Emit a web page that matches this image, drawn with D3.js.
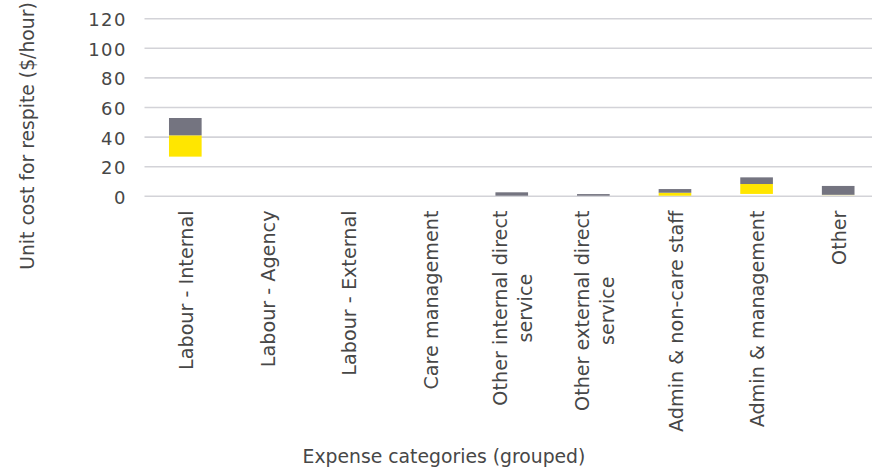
<!DOCTYPE html>
<html>
<head>
<meta charset="utf-8">
<script src="https://cdn.jsdelivr.net/npm/d3@7"></script>
<style>
  html, body { margin: 0; padding: 0; background: #ffffff; }
  svg { display: block; }
  text { font-family: "DejaVu Sans", sans-serif; fill: #474747; }
</style>
</head>
<body>
<svg id="chart" width="872" height="473"></svg>
<script>
// Expense categories (lines split for wrapped labels)
const categories = [
  "Labour - Internal",
  "Labour - Agency",
  "Labour - External",
  "Care management",
  "Other internal direct service",
  "Other external direct service",
  "Admin & non-care staff",
  "Admin & management",
  "Other"
];
const categoryLines = [
  ["Labour - Internal"],
  ["Labour - Agency"],
  ["Labour - External"],
  ["Care management"],
  ["Other internal direct", "service"],
  ["Other external direct", "service"],
  ["Admin & non-care staff"],
  ["Admin & management"],
  ["Other"]
];

// Floating range bars: invisible offset, lower (yellow) and upper (grey) segments, $/hour
const baseOffset   = [26.8, 0, 0, 0, 0.4, 0.4, 0.4, 1.6, 0.8];
const lowerSegment = [14.4, 0, 0, 0, 0.0, 0.0, 2.0, 6.7, 0.2];
const upperSegment = [11.7, 0, 0, 0, 2.3, 1.1, 2.5, 4.5, 6.0];

const yTicks = [0, 20, 40, 60, 80, 100, 120];
const yTitle = "Unit cost for respite ($/hour)";
const xTitle = "Expense categories (grouped)";

const svg = d3.select("#chart");
const plotLeft = 144.5, plotRight = 879, plotTop = 18.7, plotBottom = 196.3;

const x = d3.scaleBand()
  .domain(categories)
  .range([plotLeft, plotRight])
  .paddingInner(0.6)
  .paddingOuter(0.3);

const y = d3.scaleLinear()
  .domain([0, 120])
  .range([plotBottom, plotTop]);

// Gridlines
svg.append("g")
  .selectAll("line")
  .data(yTicks)
  .join("line")
  .attr("x1", plotLeft)
  .attr("x2", 872)
  .attr("y1", d => y(d))
  .attr("y2", d => y(d))
  .attr("stroke", "#d3d3d8")
  .attr("stroke-width", 1.6);

// Y tick labels
svg.append("g")
  .selectAll("text")
  .data(yTicks)
  .join("text")
  .attr("x", 127)
  .attr("y", d => y(d))
  .attr("dy", "0.42em")
  .attr("text-anchor", "end")
  .style("font-size", "18px")
  .style("letter-spacing", "1.5px")
  .text(d => d);

// Stacked segments
const rows = categories.map((c, i) => ({
  category: c,
  base: baseOffset[i],
  lower: lowerSegment[i],
  upper: upperSegment[i]
}));
const stack = d3.stack().keys(["base", "lower", "upper"]);
const layers = stack(rows);
const fills = { base: "none", lower: "#FFE600", upper: "#747480" };

svg.append("g")
  .selectAll("g")
  .data(layers.filter(l => l.key !== "base"))
  .join("g")
  .attr("fill", l => fills[l.key])
  .selectAll("rect")
  .data(l => l.filter(d => d[1] - d[0] > 0))
  .join("rect")
  .attr("x", d => x(d.data.category))
  .attr("width", x.bandwidth())
  .attr("y", d => y(d[1]))
  .attr("height", d => y(d[0]) - y(d[1]));

// Category labels, rotated; wrapped lines centred on the longest line
const labelTop = 210.5;
const lineGap = 25;
const labelGroups = svg.append("g")
  .selectAll("g")
  .data(categories.map((c, i) => ({ c, lines: categoryLines[i] })))
  .join("g");

labelGroups.each(function(d) {
  const g = d3.select(this);
  const cx = x(d.c) + x.bandwidth() / 2;
  const n = d.lines.length;
  const texts = d.lines.map(line => g.append("text")
    .style("font-size", "19.2px")
    .attr("text-anchor", "middle")
    .text(line));
  const maxLen = d3.max(texts, t => t.node().getComputedTextLength());
  texts.forEach((t, k) => {
    const baseline = cx + 7.8 + (k - (n - 1) / 2) * lineGap;
    const along = labelTop + maxLen / 2;
    t.attr("transform", `translate(${baseline},${along}) rotate(-90)`);
  });
});

// Axis titles
svg.append("text")
  .attr("transform", "translate(34,136) rotate(-90)")
  .attr("text-anchor", "middle")
  .style("font-size", "18.8px")
  .text(yTitle);

svg.append("text")
  .attr("x", 444)
  .attr("y", 463)
  .attr("text-anchor", "middle")
  .style("font-size", "18.8px")
  .text(xTitle);
</script>
</body>
</html>
